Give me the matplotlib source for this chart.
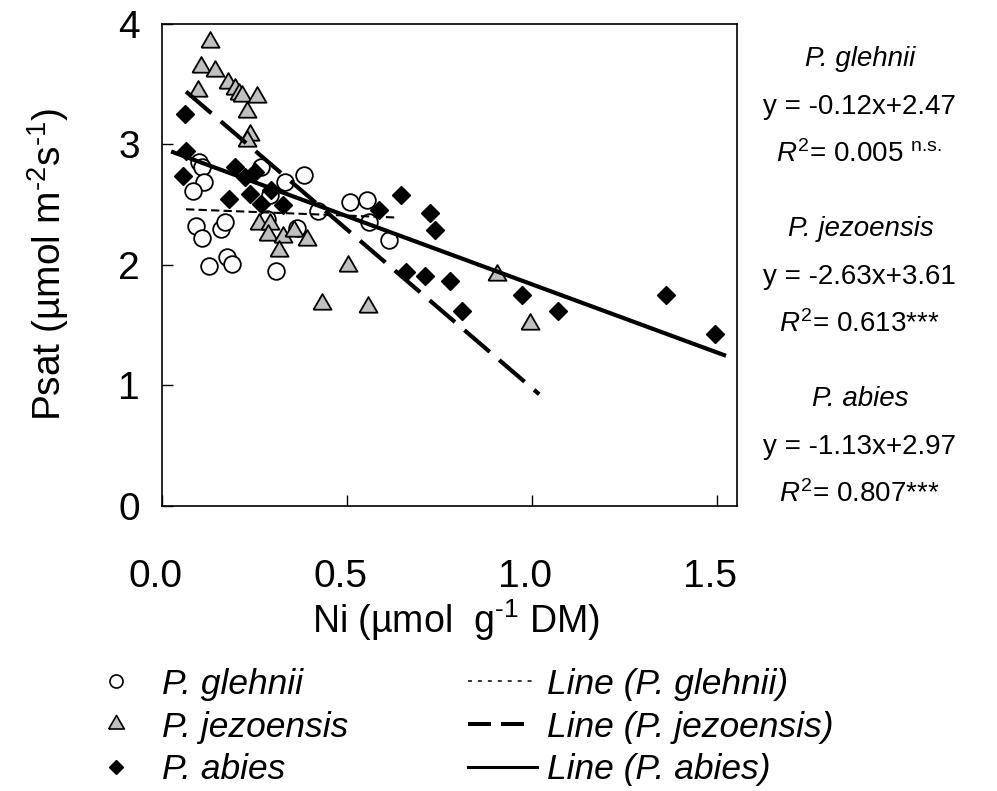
import numpy as np
import matplotlib
matplotlib.use("Agg")
import matplotlib.pyplot as plt
from matplotlib.lines import Line2D
from matplotlib.transforms import ScaledTranslation

plt.rcParams['font.family'] = ['Liberation Sans', 'DejaVu Sans']
plt.rcParams['mathtext.fontset'] = 'custom'
plt.rcParams['mathtext.rm'] = 'Liberation Sans'
plt.rcParams['mathtext.it'] = 'Liberation Sans:italic'

# P. glehnii (open circles)
glehnii_x = [0.101, 0.107, 0.114, 0.083, 0.269, 0.384, 0.332, 0.292, 0.423, 0.508, 0.555, 0.560,
             0.614, 0.092, 0.109, 0.159, 0.170, 0.128, 0.175, 0.188, 0.308, 0.283, 0.364]
glehnii_y = [2.855, 2.81, 2.69, 2.61, 2.81, 2.75, 2.69, 2.58, 2.45, 2.52, 2.54, 2.36,
             2.21, 2.32, 2.22, 2.30, 2.36, 1.99, 2.07, 2.01, 1.95, 2.38, 2.31]

# P. jezoensis (grey triangles)
jezo_x = [0.130, 0.105, 0.144, 0.178, 0.197, 0.209, 0.217, 0.256, 0.098, 0.229, 0.238, 0.229,
          0.263, 0.292, 0.287, 0.328, 0.357, 0.391, 0.317, 0.504, 0.432, 0.558, 0.905, 0.995]
jezo_y = [3.85, 3.64, 3.61, 3.51, 3.46, 3.42, 3.40, 3.39, 3.44, 3.27, 3.08, 3.03,
          2.34, 2.34, 2.25, 2.23, 2.28, 2.21, 2.12, 1.99, 1.68, 1.65, 1.92, 1.51]

# P. abies (black diamonds)
abies_x = [0.062, 0.065, 0.058, 0.181, 0.197, 0.224, 0.251, 0.238, 0.267, 0.296, 0.327, 0.588,
           0.646, 0.725, 0.738, 0.659, 0.711, 0.780, 0.810, 0.974, 1.071, 1.364, 1.496]
abies_y = [3.25, 2.95, 2.74, 2.55, 2.81, 2.73, 2.77, 2.59, 2.51, 2.62, 2.495, 2.455,
           2.58, 2.43, 2.29, 1.94, 1.91, 1.87, 1.62, 1.755, 1.62, 1.755, 1.43]

# regression lines: slope, intercept, x extent
species = ['P. glehnii', 'P. jezoensis', 'P. abies']
slopes = [-0.12, -2.63, -1.13]
intercepts = [2.47, 3.61, 2.97]
x_ranges = [(0.065, 0.63), (0.065, 1.02), (0.03, 1.52)]
r2_text = ['0.005', '0.613', '0.807']
r2_sig = [' $^{\\text{n.s.}}$', '***', '***']

x_ticks = [0.0, 0.5, 1.0, 1.5]
y_ticks = [0, 1, 2, 3, 4]

# equilateral triangle marker
tri = [(-1, -0.577), (1, -0.577), (0, 1.155), (-1, -0.577)]

fig = plt.figure(figsize=(9.97, 7.91), dpi=100)
ax = fig.add_axes([0.1625, 0.3603, 0.5767, 0.6094])

ax.plot(glehnii_x, glehnii_y, 'o', ms=12, mfc='white', mec='black', mew=1.3, zorder=3)
ax.plot(jezo_x, jezo_y, marker=tri, ls='none', ms=15, mfc='#c0c0c0', mec='black', mew=1.3, zorder=3)
ax.plot(abies_x, abies_y, 'D', ms=9.3, mfc='black', mec='black', mew=1, zorder=3)

styles = [dict(lw=1.5, dashes=(4, 2)), dict(lw=3, dashes=(8, 3)), dict(lw=3, ls='-')]
for m, b, (x0, x1), st in zip(slopes, intercepts, x_ranges, styles):
    xx = np.array([x0, x1])
    ax.plot(xx, m * xx + b, color='black', zorder=4, **st)

ax.set_xlim(0, 1.555)
ax.set_ylim(0, 4)
ax.set_xticks(x_ticks)
ax.set_xticklabels(['%.1f' % t for t in x_ticks])
ax.set_yticks(y_ticks)
ax.tick_params(direction='in', length=8, width=1, labelsize=28)
ax.tick_params(axis='x', pad=38)
ax.tick_params(axis='y', pad=16)
shift = ScaledTranslation(-0.065, 0, fig.dpi_scale_trans)
for lab in ax.get_xticklabels():
    lab.set_transform(lab.get_transform() + shift)
for s in ax.spines.values():
    s.set_linewidth(1.2)

ax.set_xlabel('Ni (µmol  g$^{\u20101}$ DM)', fontsize=27)
ax.xaxis.set_label_coords(0.511, -0.19)
ax.set_ylabel('Psat (µmol m$^{\u20102}$s$^{\u20101}$)', fontsize=28, labelpad=34)

# equations on the right
y0 = 0.926
for i, sp in enumerate(species):
    base = y0 - i * 0.215
    fig.text(0.863, base, sp, fontsize=20, style='italic', ha='center', va='center')
    sign = '+' if intercepts[i] >= 0 else '-'
    fig.text(0.862, base - 0.061, 'y = %.2fx%s%.2f' % (slopes[i], sign, abs(intercepts[i])),
             fontsize=20, ha='center', va='center')
    fig.text(0.862, base - 0.121, '$R^2$= ' + r2_text[i] + r2_sig[i],
             fontsize=20, ha='center', va='center')

# legend, two separate columns
fs = 25.5
mark_handles = [
    Line2D([], [], marker='o', ls='none', ms=9.4, mfc='white', mec='black', mew=1.2),
    Line2D([], [], marker=tri, ls='none', ms=13, mfc='#c0c0c0', mec='black', mew=1.2),
    Line2D([], [], marker='D', ls='none', ms=7.1, mfc='black', mec='black'),
]
line_handles = [
    Line2D([], [], color='black', lw=1.1, ls=(0, (2.6, 3.9))),
    Line2D([], [], color='black', lw=2.9, ls=(0, (5.7, 2.5, 5.7, 8))),
    Line2D([], [], color='black', lw=2.2),
]
fig.legend(mark_handles, species, loc='center left',
           bbox_to_anchor=(76 / 997, 1 - 727 / 791), frameon=False,
           prop={'size': fs, 'style': 'italic'}, borderpad=0, borderaxespad=0,
           handlelength=2.26, handletextpad=0.17, labelspacing=0.28)
fig.legend(line_handles, ['Line (%s)' % s for s in species], loc='center left',
           bbox_to_anchor=(468 / 997, 1 - 727 / 791), frameon=False,
           prop={'size': fs, 'style': 'italic'}, borderpad=0, borderaxespad=0,
           handlelength=1.95, handletextpad=0.28, labelspacing=0.28)

fig.savefig('out.png', dpi=100)
